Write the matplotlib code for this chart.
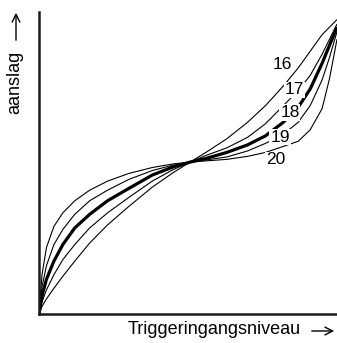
import matplotlib.pyplot as plt
import matplotlib as mpl

mpl.rcParams['font.family'] = ['Liberation Sans', 'DejaVu Sans']

# Config: curves (normalised axis units)
u = [0, 0.01, 0.025, 0.05, 0.08, 0.12, 0.17, 0.23, 0.30, 0.38, 0.45, 0.507,
     0.56, 0.63, 0.70, 0.76, 0.82, 0.87, 0.91, 0.95, 0.975, 1.0]

curve_16 = [0, 0.025, 0.05, 0.085, 0.125, 0.175, 0.235, 0.295, 0.355, 0.42, 0.468, 0.503,
            0.535, 0.58, 0.635, 0.69, 0.755, 0.815, 0.87, 0.925, 0.95, 0.975]
curve_17 = [0, 0.04, 0.08, 0.13, 0.18, 0.23, 0.285, 0.335, 0.385, 0.44, 0.478, 0.503,
            0.525, 0.55, 0.585, 0.63, 0.69, 0.74, 0.79, 0.86, 0.91, 0.96]
curve_18 = [0, 0.06, 0.115, 0.175, 0.23, 0.285, 0.33, 0.375, 0.415, 0.46, 0.487, 0.503,
            0.515, 0.535, 0.56, 0.59, 0.635, 0.685, 0.745, 0.83, 0.89, 0.95]
curve_19 = [0, 0.09, 0.16, 0.23, 0.28, 0.33, 0.375, 0.41, 0.445, 0.475, 0.493, 0.503,
            0.51, 0.52, 0.54, 0.565, 0.595, 0.635, 0.69, 0.775, 0.85, 0.935]
curve_20 = [0, 0.13, 0.22, 0.29, 0.335, 0.375, 0.41, 0.44, 0.465, 0.485, 0.497, 0.503,
            0.507, 0.512, 0.522, 0.535, 0.555, 0.572, 0.61, 0.68, 0.78, 0.91]

labels = ['16', '17', '18', '19', '20']
label_pos = [(0.818, 0.825), (0.857, 0.742), (0.842, 0.666), (0.809, 0.586), (0.795, 0.51)]

fig = plt.figure(figsize=(3.37, 3.43), dpi=100)
ax = fig.add_axes([39 / 337, 29 / 343, 298 / 337, 302 / 343])

curves = [curve_16, curve_17, curve_18, curve_19, curve_20]
for name, vals in zip(labels, curves):
    lw = 2.3 if name == '18' else 0.8
    ax.plot(u, vals, color='black', linewidth=lw, solid_capstyle='butt', zorder=2)

for name, (lx, ly) in zip(labels, label_pos):
    ax.text(lx, ly, name, fontsize=12.5, ha='center', va='center', zorder=3,
            bbox=dict(facecolor='white', edgecolor='none', pad=0.6))

ax.set_xlim(0, 1)
ax.set_ylim(0, 1)
ax.set_xticks([])
ax.set_yticks([])
for side in ['top', 'right']:
    ax.spines[side].set_visible(False)
for side in ['left', 'bottom']:
    ax.spines[side].set_linewidth(1.8)
    ax.spines[side].set_color('#1a1a1a')

# axis labels with arrows
fig.text(128 / 337, 1 - 330 / 343, 'Triggeringangsniveau', fontsize=13,
         ha='left', va='center')
fig.text(15 / 337, 1 - 82 / 343, 'aanslag', fontsize=13, rotation=90,
         ha='center', va='center')
arrow = dict(arrowstyle='->', color='black', lw=1.0, mutation_scale=14)
fig.add_artist(mpl.patches.FancyArrowPatch((309 / 337, 1 - 331 / 343), (337 / 337, 1 - 331 / 343),
                                           transform=fig.transFigure, **arrow))
fig.add_artist(mpl.patches.FancyArrowPatch((16 / 337, 1 - 43 / 343), (16 / 337, 1 - 10 / 343),
                                           transform=fig.transFigure, **arrow))

plt.savefig('out.png', dpi=100)
